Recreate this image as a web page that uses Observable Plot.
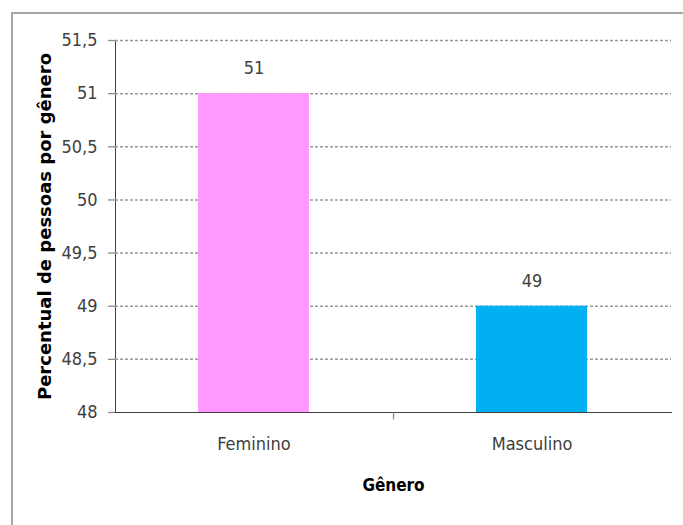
<!DOCTYPE html>
<html>
<head>
<meta charset="utf-8">
<script src="https://cdn.jsdelivr.net/npm/d3@7"></script>
<script src="https://cdn.jsdelivr.net/npm/@observablehq/plot@0.6"></script>
<style>
  html, body { margin: 0; padding: 0; background: #fff; overflow: hidden; width: 683px; height: 525px; }
  #wrap { position: relative; width: 683px; height: 525px; }
  #frame { position: absolute; left: 11px; top: 12px; width: 700px; height: 600px;
           border-left: 2px solid #a6a6a6; border-top: 2px solid #a6a6a6; pointer-events: none; }
  #chart { position: absolute; left: 0; top: 0; }
</style>
</head>
<body>
<div id="wrap">
  <div id="chart"></div>
  <div id="frame"></div>
</div>
<script>
const categories = ["Feminino", "Masculino"];
const values = [51, 49];
const colors = ["#FF99FF", "#00B0F0"];
const yTicks = [48, 48.5, 49, 49.5, 50, 50.5, 51, 51.5];
const yDomain = [48, 51.5];
const xLabel = "Gênero";
const yLabel = "Percentual de pessoas por gênero";

const data = categories.map((c, i) => ({category: c, value: values[i], color: colors[i]}));
const fmt = d => String(d).replace(".", ",");
const narrow = "'DejaVu Sans Condensed', 'Liberation Sans Narrow', sans-serif";

const tickSymbol = {draw(ctx) { ctx.moveTo(0, 0); ctx.lineTo(0, 7); }};

const plot = Plot.plot({
  width: 683,
  height: 525,
  marginLeft: 115,
  marginRight: 12,
  marginTop: 40,
  marginBottom: 113,
  style: {background: "transparent", fontFamily: narrow, fontSize: "18px", color: "#404040", overflow: "visible"},
  x: {domain: categories, paddingInner: 0.6, paddingOuter: 0.3, label: null, tickSize: 0, tickPadding: 25, line: true},
  y: {domain: yDomain, ticks: yTicks, tickFormat: fmt, label: null, tickSize: 7, tickPadding: 11, line: true},
  marks: [
    Plot.ruleY(yTicks.slice(1), {y: d => d, stroke: "#9a9a9a", strokeWidth: 1.5, strokeDasharray: "3,2"}),
    Plot.barY(data, {x: "category", y1: yDomain[0], y2: "value", fill: "color"}),
    Plot.text(data, {x: "category", y: "value", text: d => fmt(d.value), dy: -25, lineAnchor: "middle",
      fill: "#404040", fontSize: 18, fontFamily: narrow}),
    Plot.dot([0], {frameAnchor: "bottom", symbol: tickSymbol, stroke: "#8c8c8c", fill: "none", strokeWidth: 1.3}),
    Plot.text([xLabel], {frameAnchor: "bottom", dy: 73, lineAnchor: "middle", textAnchor: "middle", text: d => d,
      fontWeight: "bold", fontSize: 17, fontFamily: narrow, fill: "#000"}),
    Plot.text([yLabel], {frameAnchor: "left", dx: -70, rotate: -90, lineAnchor: "middle", textAnchor: "middle", text: d => d,
      fontWeight: "bold", fontSize: 18, fontFamily: "'DejaVu Sans', sans-serif", fill: "#000"})
  ]
});

document.getElementById("chart").appendChild(plot);
d3.select(plot).selectAll("g[aria-label*='axis'] path, g[aria-label*='axis'] line")
  .attr("stroke", "#8c8c8c").attr("stroke-width", 1.3);
</script>
</body>
</html>
